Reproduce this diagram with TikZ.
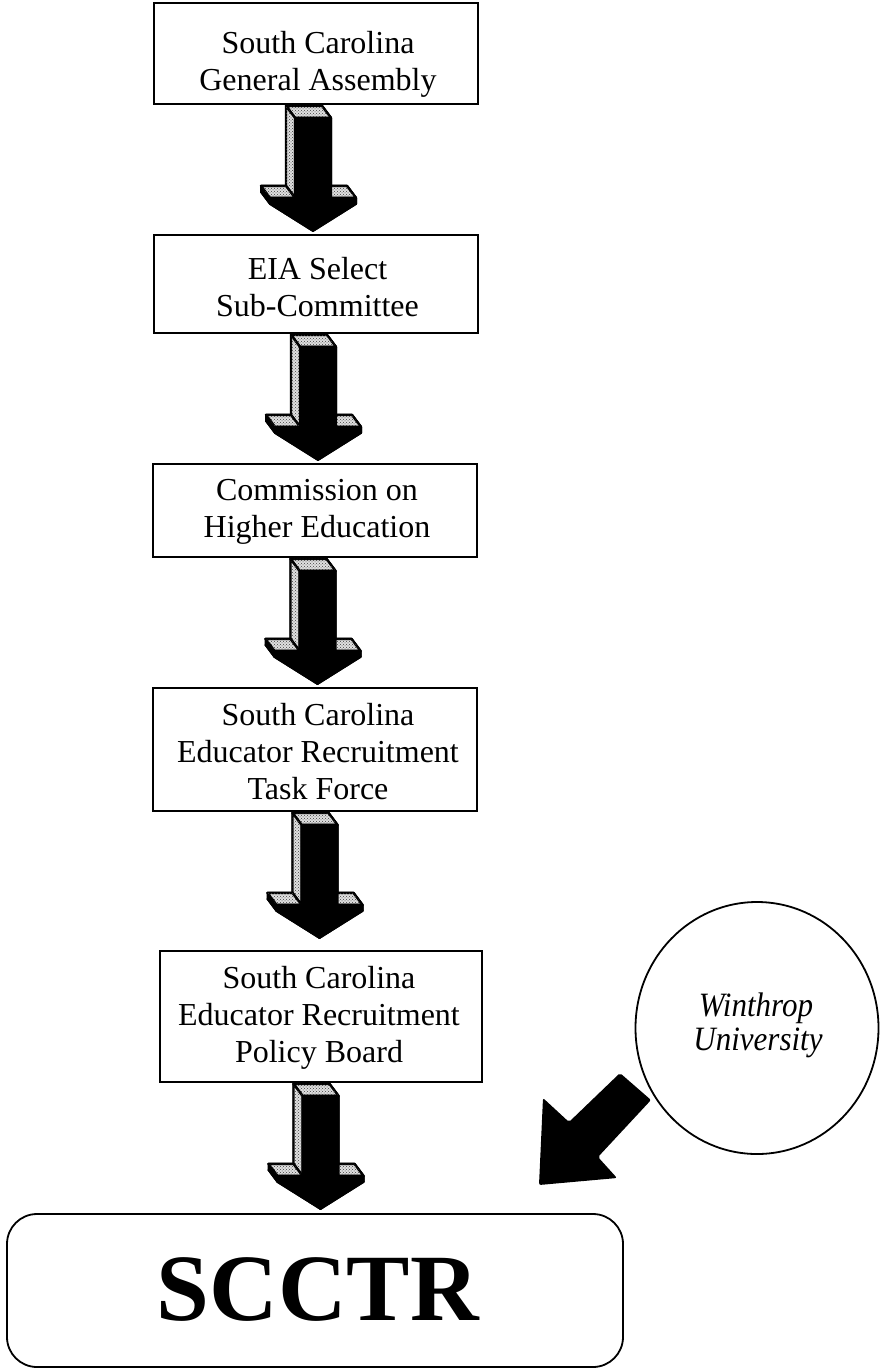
\documentclass[tikz,border=0pt]{standalone}
\usepackage{fontspec}
\setmainfont{Liberation Serif}
\usetikzlibrary{shapes.geometric,patterns}
\newcommand\tdarrow[2]{%
\begin{scope}[shift={(#1)},xshift=#2pt]
  % extruded body (back face + sweeps)
  \foreach \ax/\ay/\bx/\by in {-18/13/18/13, 18/13/18/93, 18/93/43/93, 43/93/43/99, 43/99/0/126, 0/126/-43/99, -43/99/-43/93, -43/93/-18/93, -18/93/-18/13}
    \filldraw[blackbody] (\ax,\ay) -- (\bx,\by) -- (\bx-9,\by-12) -- (\ax-9,\ay-12) -- cycle;
  % visible side faces
  \filldraw[dotface] (-18,13) -- (18,13) -- (9,1) -- (-27,1) -- cycle;
  \filldraw[dotface] (-18,13) -- (-27,1) -- (-27,81) -- (-18,93) -- cycle;
  \filldraw[dotface] (-43,93) -- (-18,93) -- (-27,81) -- (-52,81) -- cycle;
  \filldraw[dotface] (18,93) -- (43,93) -- (34,81) -- (9,81) -- cycle;
  % front face
  \filldraw[blackbody] (-18,13) -- (18,13) -- (18,93) -- (43,93) -- (43,99) -- (0,126) -- (-43,99) -- (-43,93) -- (-18,93) -- cycle;
\end{scope}}
\begin{document}
\begin{tikzpicture}[x=1pt,y=-1pt,
  orgbox/.style={draw=black,line width=1.8pt,rectangle,inner sep=0pt},
  orgtext/.style={align=center,inner sep=0pt,font=\fontsize{32}{37}\selectfont},
  wutext/.style={anchor=base,inner sep=0pt,font=\fontsize{31}{31}\selectfont\itshape},
  blackbody/.style={fill=black,draw=black,line width=2pt,line join=round},
  dotface/.style={draw=black,line width=2.4pt,line join=round,fill=black!12,postaction={pattern=crosshatch dots,pattern color=black!75}}]
\useasboundingbox (0,0) rectangle (879,1369);
\fill[white] (0,0) rectangle (879,1369);

% boxes
\node[orgbox,minimum width=324,minimum height=101] (b1) at (316,53.5) {};
\node[orgbox,minimum width=324,minimum height=98]  (b2) at (316,284) {};
\node[orgbox,minimum width=324,minimum height=93]  (b3) at (315,510.5) {};
\node[orgbox,minimum width=324,minimum height=123] (b4) at (315,749.5) {};
\node[orgbox,minimum width=322,minimum height=131] (b5) at (321,1016.5) {};
\node[orgbox,rounded corners=30pt,minimum width=616,minimum height=153] (sc) at (315,1290.5) {};

% texts
\node[orgtext] (t1) at (318,64) {South Carolina\\General Assembly};
\node[orgtext] (t2) at (317.5,287) {EIA Select\\Sub-Committee};
\node[orgtext] (t3) at (317,512) {Commission on\\Higher Education};
\node[orgtext] (t4) at (318,752) {South Carolina\\Educator Recruitment\\Task Force};
\node[orgtext] (t5) at (319,1018) {South Carolina\\Educator Recruitment\\Policy Board};
\node[inner sep=0pt,font=\fontsize{95}{95}\selectfont\bfseries] (sct) at (318,1289.5) {SCCTR};

% Winthrop circle
\node[ellipse,draw=black,line width=1.8pt,minimum width=243,minimum height=252,inner sep=0pt] (wu) at (757,1028) {};
\node[wutext] (wu1) at (756,1016) {\scalebox{1}[1.1]{Winthrop}};
\node[wutext] (wu2) at (758,1050) {\scalebox{1}[1.1]{University}};

% 3D arrows
\tdarrow{b1.south}{-3}
\tdarrow{b2.south}{2}
\tdarrow{b3.south}{2.5}
\tdarrow{b4.south}{4.5}
\tdarrow{b5.south}{-0.5}

% diagonal arrow from Winthrop to SCCTR
\coordinate (da) at (651,1100);
\fill[black,rounded corners=2pt] (620,1073) -- (da) -- (598,1157) -- (617,1178) -- (539,1185) -- (543,1098) -- (569,1122) -- cycle;
\end{tikzpicture}
\end{document}
